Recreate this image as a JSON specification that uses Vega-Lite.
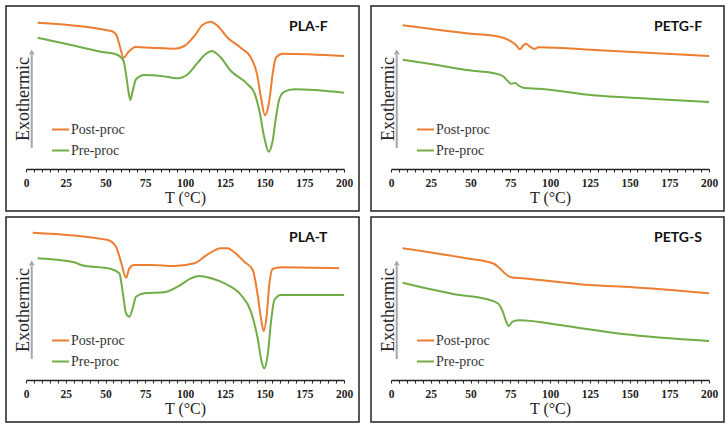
{
  "$schema": "https://vega.github.io/schema/vega-lite/v6.json",
  "padding": {"left": 5, "top": 5, "right": 5, "bottom": 5},
  "background": "white",
  "config": {
    "view": {"stroke": "#222", "strokeWidth": 1.5},
    "axis": {"grid": false}
  },
  "datasets": {
    "dsc": [
      {"panel": "PLA-F", "series": "Post-proc", "T": 7.3, "hf": 188.3},
      {"panel": "PLA-F", "series": "Post-proc", "T": 53.5, "hf": 180},
      {"panel": "PLA-F", "series": "Post-proc", "T": 56.6, "hf": 176.7},
      {"panel": "PLA-F", "series": "Post-proc", "T": 58.7, "hf": 166.7},
      {"panel": "PLA-F", "series": "Post-proc", "T": 61.4, "hf": 153.3},
      {"panel": "PLA-F", "series": "Post-proc", "T": 64, "hf": 158.3},
      {"panel": "PLA-F", "series": "Post-proc", "T": 69, "hf": 164},
      {"panel": "PLA-F", "series": "Post-proc", "T": 78.6, "hf": 163.3},
      {"panel": "PLA-F", "series": "Post-proc", "T": 93.3, "hf": 162.3},
      {"panel": "PLA-F", "series": "Post-proc", "T": 99.6, "hf": 165},
      {"panel": "PLA-F", "series": "Post-proc", "T": 105.9, "hf": 175},
      {"panel": "PLA-F", "series": "Post-proc", "T": 111, "hf": 186},
      {"panel": "PLA-F", "series": "Post-proc", "T": 116, "hf": 189.3},
      {"panel": "PLA-F", "series": "Post-proc", "T": 120.6, "hf": 185},
      {"panel": "PLA-F", "series": "Post-proc", "T": 126.8, "hf": 173.3},
      {"panel": "PLA-F", "series": "Post-proc", "T": 135, "hf": 163.3},
      {"panel": "PLA-F", "series": "Post-proc", "T": 141.5, "hf": 153.3},
      {"panel": "PLA-F", "series": "Post-proc", "T": 145.3, "hf": 136.7},
      {"panel": "PLA-F", "series": "Post-proc", "T": 147.8, "hf": 113.3},
      {"panel": "PLA-F", "series": "Post-proc", "T": 150.3, "hf": 95.7},
      {"panel": "PLA-F", "series": "Post-proc", "T": 153, "hf": 110},
      {"panel": "PLA-F", "series": "Post-proc", "T": 155.1, "hf": 136.7},
      {"panel": "PLA-F", "series": "Post-proc", "T": 157.2, "hf": 153.3},
      {"panel": "PLA-F", "series": "Post-proc", "T": 161.4, "hf": 157.3},
      {"panel": "PLA-F", "series": "Post-proc", "T": 200, "hf": 155},
      {"panel": "PLA-F", "series": "Pre-proc", "T": 7.3, "hf": 173.3},
      {"panel": "PLA-F", "series": "Pre-proc", "T": 26.2, "hf": 166.7},
      {"panel": "PLA-F", "series": "Pre-proc", "T": 47.2, "hf": 159.3},
      {"panel": "PLA-F", "series": "Pre-proc", "T": 57.7, "hf": 156},
      {"panel": "PLA-F", "series": "Pre-proc", "T": 61.4, "hf": 150},
      {"panel": "PLA-F", "series": "Pre-proc", "T": 62.9, "hf": 136.7},
      {"panel": "PLA-F", "series": "Pre-proc", "T": 64.6, "hf": 118.3},
      {"panel": "PLA-F", "series": "Pre-proc", "T": 65.6, "hf": 111},
      {"panel": "PLA-F", "series": "Pre-proc", "T": 67.1, "hf": 120},
      {"panel": "PLA-F", "series": "Pre-proc", "T": 69.2, "hf": 131.7},
      {"panel": "PLA-F", "series": "Pre-proc", "T": 74.4, "hf": 136},
      {"panel": "PLA-F", "series": "Pre-proc", "T": 84.9, "hf": 135},
      {"panel": "PLA-F", "series": "Pre-proc", "T": 95.4, "hf": 132.7},
      {"panel": "PLA-F", "series": "Pre-proc", "T": 101.7, "hf": 136.7},
      {"panel": "PLA-F", "series": "Pre-proc", "T": 108, "hf": 148.3},
      {"panel": "PLA-F", "series": "Pre-proc", "T": 113.2, "hf": 157.3},
      {"panel": "PLA-F", "series": "Pre-proc", "T": 116.8, "hf": 160},
      {"panel": "PLA-F", "series": "Pre-proc", "T": 121.6, "hf": 155},
      {"panel": "PLA-F", "series": "Pre-proc", "T": 128.9, "hf": 140},
      {"panel": "PLA-F", "series": "Pre-proc", "T": 139.4, "hf": 126.7},
      {"panel": "PLA-F", "series": "Pre-proc", "T": 143.6, "hf": 118.3},
      {"panel": "PLA-F", "series": "Pre-proc", "T": 146.8, "hf": 100},
      {"panel": "PLA-F", "series": "Pre-proc", "T": 149.9, "hf": 73.3},
      {"panel": "PLA-F", "series": "Pre-proc", "T": 152.6, "hf": 59.3},
      {"panel": "PLA-F", "series": "Pre-proc", "T": 155.1, "hf": 70},
      {"panel": "PLA-F", "series": "Pre-proc", "T": 157.2, "hf": 93.3},
      {"panel": "PLA-F", "series": "Pre-proc", "T": 159.3, "hf": 111.7},
      {"panel": "PLA-F", "series": "Pre-proc", "T": 162.5, "hf": 119.3},
      {"panel": "PLA-F", "series": "Pre-proc", "T": 168.8, "hf": 121.7},
      {"panel": "PLA-F", "series": "Pre-proc", "T": 200, "hf": 118.3},

      {"panel": "PETG-F", "series": "Post-proc", "T": 7.3, "hf": 185.7},
      {"panel": "PETG-F", "series": "Post-proc", "T": 47.2, "hf": 177.7},
      {"panel": "PETG-F", "series": "Post-proc", "T": 68.1, "hf": 174.3},
      {"panel": "PETG-F", "series": "Post-proc", "T": 74.4, "hf": 170.7},
      {"panel": "PETG-F", "series": "Post-proc", "T": 78.6, "hf": 166},
      {"panel": "PETG-F", "series": "Post-proc", "T": 81.1, "hf": 161.7},
      {"panel": "PETG-F", "series": "Post-proc", "T": 82.8, "hf": 165},
      {"panel": "PETG-F", "series": "Post-proc", "T": 84.9, "hf": 167.3},
      {"panel": "PETG-F", "series": "Post-proc", "T": 87.4, "hf": 164.3},
      {"panel": "PETG-F", "series": "Post-proc", "T": 90.1, "hf": 162},
      {"panel": "PETG-F", "series": "Post-proc", "T": 92.9, "hf": 163.7},
      {"panel": "PETG-F", "series": "Post-proc", "T": 131, "hf": 160.7},
      {"panel": "PETG-F", "series": "Post-proc", "T": 200, "hf": 155},
      {"panel": "PETG-F", "series": "Pre-proc", "T": 7.3, "hf": 151.3},
      {"panel": "PETG-F", "series": "Pre-proc", "T": 26.2, "hf": 146.7},
      {"panel": "PETG-F", "series": "Pre-proc", "T": 49.2, "hf": 140.7},
      {"panel": "PETG-F", "series": "Pre-proc", "T": 64, "hf": 138},
      {"panel": "PETG-F", "series": "Pre-proc", "T": 70.3, "hf": 135},
      {"panel": "PETG-F", "series": "Pre-proc", "T": 73.4, "hf": 130},
      {"panel": "PETG-F", "series": "Pre-proc", "T": 75.5, "hf": 127.3},
      {"panel": "PETG-F", "series": "Pre-proc", "T": 78, "hf": 128},
      {"panel": "PETG-F", "series": "Pre-proc", "T": 80.7, "hf": 125},
      {"panel": "PETG-F", "series": "Pre-proc", "T": 83.9, "hf": 123},
      {"panel": "PETG-F", "series": "Pre-proc", "T": 93.3, "hf": 122.3},
      {"panel": "PETG-F", "series": "Pre-proc", "T": 126.9, "hf": 115.7},
      {"panel": "PETG-F", "series": "Pre-proc", "T": 162.5, "hf": 112.3},
      {"panel": "PETG-F", "series": "Pre-proc", "T": 200, "hf": 109},

      {"panel": "PLA-T", "series": "Post-proc", "T": 4.2, "hf": 189.3},
      {"panel": "PLA-T", "series": "Post-proc", "T": 51.4, "hf": 182},
      {"panel": "PLA-T", "series": "Post-proc", "T": 56.6, "hf": 175.3},
      {"panel": "PLA-T", "series": "Post-proc", "T": 59.7, "hf": 160.3},
      {"panel": "PLA-T", "series": "Post-proc", "T": 62.9, "hf": 144.3},
      {"panel": "PLA-T", "series": "Post-proc", "T": 65, "hf": 153.7},
      {"panel": "PLA-T", "series": "Post-proc", "T": 68.1, "hf": 157},
      {"panel": "PLA-T", "series": "Post-proc", "T": 78.6, "hf": 157},
      {"panel": "PLA-T", "series": "Post-proc", "T": 93.3, "hf": 156},
      {"panel": "PLA-T", "series": "Post-proc", "T": 105.9, "hf": 158.7},
      {"panel": "PLA-T", "series": "Post-proc", "T": 114.3, "hf": 167.7},
      {"panel": "PLA-T", "series": "Post-proc", "T": 122.6, "hf": 173.7},
      {"panel": "PLA-T", "series": "Post-proc", "T": 126.8, "hf": 173.7},
      {"panel": "PLA-T", "series": "Post-proc", "T": 131, "hf": 169.7},
      {"panel": "PLA-T", "series": "Post-proc", "T": 137.3, "hf": 160.3},
      {"panel": "PLA-T", "series": "Post-proc", "T": 142.6, "hf": 152},
      {"panel": "PLA-T", "series": "Post-proc", "T": 145.7, "hf": 127},
      {"panel": "PLA-T", "series": "Post-proc", "T": 147.8, "hf": 103.7},
      {"panel": "PLA-T", "series": "Post-proc", "T": 149.5, "hf": 91},
      {"panel": "PLA-T", "series": "Post-proc", "T": 151.4, "hf": 107},
      {"panel": "PLA-T", "series": "Post-proc", "T": 153, "hf": 137},
      {"panel": "PLA-T", "series": "Post-proc", "T": 155.1, "hf": 153},
      {"panel": "PLA-T", "series": "Post-proc", "T": 160.4, "hf": 154.7},
      {"panel": "PLA-T", "series": "Post-proc", "T": 197, "hf": 153.7},
      {"panel": "PLA-T", "series": "Pre-proc", "T": 7.3, "hf": 163.7},
      {"panel": "PLA-T", "series": "Pre-proc", "T": 30.4, "hf": 159.7},
      {"panel": "PLA-T", "series": "Pre-proc", "T": 34.6, "hf": 157},
      {"panel": "PLA-T", "series": "Pre-proc", "T": 53.5, "hf": 153},
      {"panel": "PLA-T", "series": "Pre-proc", "T": 58.7, "hf": 148.7},
      {"panel": "PLA-T", "series": "Pre-proc", "T": 60.8, "hf": 130.3},
      {"panel": "PLA-T", "series": "Pre-proc", "T": 62.9, "hf": 108.7},
      {"panel": "PLA-T", "series": "Pre-proc", "T": 65, "hf": 105.3},
      {"panel": "PLA-T", "series": "Pre-proc", "T": 67.1, "hf": 113.7},
      {"panel": "PLA-T", "series": "Pre-proc", "T": 69.2, "hf": 125.3},
      {"panel": "PLA-T", "series": "Pre-proc", "T": 74.4, "hf": 128.7},
      {"panel": "PLA-T", "series": "Pre-proc", "T": 87, "hf": 129.7},
      {"panel": "PLA-T", "series": "Pre-proc", "T": 95.4, "hf": 135.3},
      {"panel": "PLA-T", "series": "Pre-proc", "T": 103.8, "hf": 143.7},
      {"panel": "PLA-T", "series": "Pre-proc", "T": 109, "hf": 146},
      {"panel": "PLA-T", "series": "Pre-proc", "T": 116.4, "hf": 143.7},
      {"panel": "PLA-T", "series": "Pre-proc", "T": 126.8, "hf": 137},
      {"panel": "PLA-T", "series": "Pre-proc", "T": 135.2, "hf": 127},
      {"panel": "PLA-T", "series": "Pre-proc", "T": 141.5, "hf": 110.3},
      {"panel": "PLA-T", "series": "Pre-proc", "T": 145.7, "hf": 83.7},
      {"panel": "PLA-T", "series": "Pre-proc", "T": 148.2, "hf": 60.3},
      {"panel": "PLA-T", "series": "Pre-proc", "T": 149.9, "hf": 53.7},
      {"panel": "PLA-T", "series": "Pre-proc", "T": 152, "hf": 67},
      {"panel": "PLA-T", "series": "Pre-proc", "T": 154.1, "hf": 100.3},
      {"panel": "PLA-T", "series": "Pre-proc", "T": 156.2, "hf": 122},
      {"panel": "PLA-T", "series": "Pre-proc", "T": 160.4, "hf": 127},
      {"panel": "PLA-T", "series": "Pre-proc", "T": 200, "hf": 127},

      {"panel": "PETG-S", "series": "Post-proc", "T": 7.3, "hf": 173.7},
      {"panel": "PETG-S", "series": "Post-proc", "T": 47.2, "hf": 163.7},
      {"panel": "PETG-S", "series": "Post-proc", "T": 64, "hf": 158.7},
      {"panel": "PETG-S", "series": "Post-proc", "T": 68.1, "hf": 154.3},
      {"panel": "PETG-S", "series": "Post-proc", "T": 72.3, "hf": 147.7},
      {"panel": "PETG-S", "series": "Post-proc", "T": 75.5, "hf": 144.7},
      {"panel": "PETG-S", "series": "Post-proc", "T": 82.8, "hf": 143.7},
      {"panel": "PETG-S", "series": "Post-proc", "T": 124.7, "hf": 137},
      {"panel": "PETG-S", "series": "Post-proc", "T": 152, "hf": 134.7},
      {"panel": "PETG-S", "series": "Post-proc", "T": 200, "hf": 128.7},
      {"panel": "PETG-S", "series": "Pre-proc", "T": 7.3, "hf": 139.3},
      {"panel": "PETG-S", "series": "Pre-proc", "T": 43, "hf": 127},
      {"panel": "PETG-S", "series": "Pre-proc", "T": 59.7, "hf": 123},
      {"panel": "PETG-S", "series": "Pre-proc", "T": 67.1, "hf": 118.7},
      {"panel": "PETG-S", "series": "Pre-proc", "T": 70.3, "hf": 110.3},
      {"panel": "PETG-S", "series": "Pre-proc", "T": 72.3, "hf": 101},
      {"panel": "PETG-S", "series": "Pre-proc", "T": 74, "hf": 96},
      {"panel": "PETG-S", "series": "Pre-proc", "T": 76.5, "hf": 100.3},
      {"panel": "PETG-S", "series": "Pre-proc", "T": 80.7, "hf": 101.7},
      {"panel": "PETG-S", "series": "Pre-proc", "T": 110, "hf": 96},
      {"panel": "PETG-S", "series": "Pre-proc", "T": 145.7, "hf": 88},
      {"panel": "PETG-S", "series": "Pre-proc", "T": 200, "hf": 81}
    ]
  },
  "spacing": 4,
  "resolve": {"scale": {"color": "independent", "x": "independent", "y": "independent"}, "legend": {"color": "independent"}},
  "vconcat": [
    {
      "spacing": 10,
      "resolve": {"scale": {"color": "independent", "x": "independent", "y": "independent"}, "legend": {"color": "independent"}},
      "hconcat": [
        {
          "width": 353, "height": 205,
          "resolve": {"axis": {"x": "independent", "y": "independent"}},
          "layer": [
            {
              "data": {"name": "dsc"},
              "transform": [{"filter": "datum.panel === 'PLA-F'"}],
              "mark": {"type": "line", "strokeWidth": 2, "interpolate": "monotone"},
              "encoding": {
                "x": {"field": "T", "type": "quantitative", "scale": {"domain": [0, 200], "range": [20, 338], "nice": false},
                  "axis": {"orient": "bottom", "values": [0,5,10,15,20,25,30,35,40,45,50,55,60,65,70,75,80,85,90,95,100,105,110,115,120,125,130,135,140,145,150,155,160,165,170,175,180,185,190,195,200],
                    "labelExpr": "datum.value % 25 === 0 ? datum.label : ''", "labelOverlap": false, "labelFlush": false,
                    "offset": -42, "title": "T (°C)", "titleFont": "Liberation Serif", "titleFontSize": 16, "titleFontWeight": "normal", "titleColor": "#222", "titlePadding": 1,
                    "labelFont": "Liberation Serif", "labelFontWeight": "bold", "labelFontSize": 11.5, "labelColor": "#222", "labelPadding": 5,
                    "tickSize": 3, "tickColor": "#222", "domainColor": "#222", "domainWidth": 1.5}},
                "y": {"field": "hf", "type": "quantitative", "scale": {"domain": [0, 205], "nice": false, "zero": false},
                  "axis": {"orient": "left", "domain": false, "ticks": false, "labels": false, "title": "Exothermic", "titleFont": "Liberation Serif", "titleFontSize": 18, "titleFontWeight": "normal", "titleColor": "#222", "titleX": 22, "titleY": 92.5, "titleBaseline": "alphabetic", "titleAngle": 270}},
                "color": {"field": "series", "type": "nominal", "scale": {"domain": ["Post-proc", "Pre-proc"], "range": ["#ED7D31", "#70AD47"]},
                  "legend": {"orient": "none", "legendX": 45, "legendY": 114, "title": null, "symbolType": "stroke", "symbolSize": 289, "symbolStrokeWidth": 2, "labelFont": "Liberation Serif", "labelFontSize": 14, "labelColor": "#333", "labelOffset": 1, "rowPadding": 4, "padding": 0}}
              }
            },
            {"data": {"values": [{}]}, "mark": {"type": "rule", "color": "#A6A6A6", "strokeWidth": 2}, "encoding": {"x": {"datum": 3.6, "axis": null}, "y": {"datum": 63, "axis": null}, "y2": {"datum": 156}}},
            {"data": {"values": [{}]}, "mark": {"type": "point", "shape": "triangle-up", "filled": true, "opacity": 1, "color": "#A6A6A6", "size": 35}, "encoding": {"x": {"datum": 3.6, "axis": null}, "y": {"datum": 159, "axis": null}}},
            {"data": {"values": [{}]}, "mark": {"type": "text", "text": "PLA-F", "font": "Lato", "fontWeight": "bold", "fontSize": 14, "align": "left", "baseline": "alphabetic", "color": "#111"}, "encoding": {"x": {"datum": 165.4, "axis": null}, "y": {"datum": 180, "axis": null}}}
          ]
        },
        {
          "width": 353, "height": 205,
          "resolve": {"axis": {"x": "independent", "y": "independent"}},
          "layer": [
            {
              "data": {"name": "dsc"},
              "transform": [{"filter": "datum.panel === 'PETG-F'"}],
              "mark": {"type": "line", "strokeWidth": 2, "interpolate": "monotone"},
              "encoding": {
                "x": {"field": "T", "type": "quantitative", "scale": {"domain": [0, 200], "range": [20, 338], "nice": false},
                  "axis": {"orient": "bottom", "values": [0,5,10,15,20,25,30,35,40,45,50,55,60,65,70,75,80,85,90,95,100,105,110,115,120,125,130,135,140,145,150,155,160,165,170,175,180,185,190,195,200],
                    "labelExpr": "datum.value % 25 === 0 ? datum.label : ''", "labelOverlap": false, "labelFlush": false,
                    "offset": -42, "title": "T (°C)", "titleFont": "Liberation Serif", "titleFontSize": 16, "titleFontWeight": "normal", "titleColor": "#222", "titlePadding": 1,
                    "labelFont": "Liberation Serif", "labelFontWeight": "bold", "labelFontSize": 11.5, "labelColor": "#222", "labelPadding": 5,
                    "tickSize": 3, "tickColor": "#222", "domainColor": "#222", "domainWidth": 1.5}},
                "y": {"field": "hf", "type": "quantitative", "scale": {"domain": [0, 205], "nice": false, "zero": false},
                  "axis": {"orient": "left", "domain": false, "ticks": false, "labels": false, "title": "Exothermic", "titleFont": "Liberation Serif", "titleFontSize": 18, "titleFontWeight": "normal", "titleColor": "#222", "titleX": 22, "titleY": 92.5, "titleBaseline": "alphabetic", "titleAngle": 270}},
                "color": {"field": "series", "type": "nominal", "scale": {"domain": ["Post-proc", "Pre-proc"], "range": ["#ED7D31", "#70AD47"]},
                  "legend": {"orient": "none", "legendX": 45, "legendY": 114, "title": null, "symbolType": "stroke", "symbolSize": 289, "symbolStrokeWidth": 2, "labelFont": "Liberation Serif", "labelFontSize": 14, "labelColor": "#333", "labelOffset": 1, "rowPadding": 4, "padding": 0}}
              }
            },
            {"data": {"values": [{}]}, "mark": {"type": "rule", "color": "#A6A6A6", "strokeWidth": 2}, "encoding": {"x": {"datum": 3.6, "axis": null}, "y": {"datum": 63, "axis": null}, "y2": {"datum": 156}}},
            {"data": {"values": [{}]}, "mark": {"type": "point", "shape": "triangle-up", "filled": true, "opacity": 1, "color": "#A6A6A6", "size": 35}, "encoding": {"x": {"datum": 3.6, "axis": null}, "y": {"datum": 159, "axis": null}}},
            {"data": {"values": [{}]}, "mark": {"type": "text", "text": "PETG-F", "font": "Lato", "fontWeight": "bold", "fontSize": 14, "align": "left", "baseline": "alphabetic", "color": "#111"}, "encoding": {"x": {"datum": 165.4, "axis": null}, "y": {"datum": 180, "axis": null}}}
          ]
        }
      ]
    },
    {
      "spacing": 10,
      "resolve": {"scale": {"color": "independent", "x": "independent", "y": "independent"}, "legend": {"color": "independent"}},
      "hconcat": [
        {
          "width": 353, "height": 205,
          "resolve": {"axis": {"x": "independent", "y": "independent"}},
          "layer": [
            {
              "data": {"name": "dsc"},
              "transform": [{"filter": "datum.panel === 'PLA-T'"}],
              "mark": {"type": "line", "strokeWidth": 2, "interpolate": "monotone"},
              "encoding": {
                "x": {"field": "T", "type": "quantitative", "scale": {"domain": [0, 200], "range": [20, 338], "nice": false},
                  "axis": {"orient": "bottom", "values": [0,5,10,15,20,25,30,35,40,45,50,55,60,65,70,75,80,85,90,95,100,105,110,115,120,125,130,135,140,145,150,155,160,165,170,175,180,185,190,195,200],
                    "labelExpr": "datum.value % 25 === 0 ? datum.label : ''", "labelOverlap": false, "labelFlush": false,
                    "offset": -42, "title": "T (°C)", "titleFont": "Liberation Serif", "titleFontSize": 16, "titleFontWeight": "normal", "titleColor": "#222", "titlePadding": 1,
                    "labelFont": "Liberation Serif", "labelFontWeight": "bold", "labelFontSize": 11.5, "labelColor": "#222", "labelPadding": 5,
                    "tickSize": 3, "tickColor": "#222", "domainColor": "#222", "domainWidth": 1.5}},
                "y": {"field": "hf", "type": "quantitative", "scale": {"domain": [0, 205], "nice": false, "zero": false},
                  "axis": {"orient": "left", "domain": false, "ticks": false, "labels": false, "title": "Exothermic", "titleFont": "Liberation Serif", "titleFontSize": 18, "titleFontWeight": "normal", "titleColor": "#222", "titleX": 22, "titleY": 92.5, "titleBaseline": "alphabetic", "titleAngle": 270}},
                "color": {"field": "series", "type": "nominal", "scale": {"domain": ["Post-proc", "Pre-proc"], "range": ["#ED7D31", "#70AD47"]},
                  "legend": {"orient": "none", "legendX": 45, "legendY": 114, "title": null, "symbolType": "stroke", "symbolSize": 289, "symbolStrokeWidth": 2, "labelFont": "Liberation Serif", "labelFontSize": 14, "labelColor": "#333", "labelOffset": 1, "rowPadding": 4, "padding": 0}}
              }
            },
            {"data": {"values": [{}]}, "mark": {"type": "rule", "color": "#A6A6A6", "strokeWidth": 2}, "encoding": {"x": {"datum": 3.6, "axis": null}, "y": {"datum": 63, "axis": null}, "y2": {"datum": 156}}},
            {"data": {"values": [{}]}, "mark": {"type": "point", "shape": "triangle-up", "filled": true, "opacity": 1, "color": "#A6A6A6", "size": 35}, "encoding": {"x": {"datum": 3.6, "axis": null}, "y": {"datum": 159, "axis": null}}},
            {"data": {"values": [{}]}, "mark": {"type": "text", "text": "PLA-T", "font": "Lato", "fontWeight": "bold", "fontSize": 14, "align": "left", "baseline": "alphabetic", "color": "#111"}, "encoding": {"x": {"datum": 165.4, "axis": null}, "y": {"datum": 180, "axis": null}}}
          ]
        },
        {
          "width": 353, "height": 205,
          "resolve": {"axis": {"x": "independent", "y": "independent"}},
          "layer": [
            {
              "data": {"name": "dsc"},
              "transform": [{"filter": "datum.panel === 'PETG-S'"}],
              "mark": {"type": "line", "strokeWidth": 2, "interpolate": "monotone"},
              "encoding": {
                "x": {"field": "T", "type": "quantitative", "scale": {"domain": [0, 200], "range": [20, 338], "nice": false},
                  "axis": {"orient": "bottom", "values": [0,5,10,15,20,25,30,35,40,45,50,55,60,65,70,75,80,85,90,95,100,105,110,115,120,125,130,135,140,145,150,155,160,165,170,175,180,185,190,195,200],
                    "labelExpr": "datum.value % 25 === 0 ? datum.label : ''", "labelOverlap": false, "labelFlush": false,
                    "offset": -42, "title": "T (°C)", "titleFont": "Liberation Serif", "titleFontSize": 16, "titleFontWeight": "normal", "titleColor": "#222", "titlePadding": 1,
                    "labelFont": "Liberation Serif", "labelFontWeight": "bold", "labelFontSize": 11.5, "labelColor": "#222", "labelPadding": 5,
                    "tickSize": 3, "tickColor": "#222", "domainColor": "#222", "domainWidth": 1.5}},
                "y": {"field": "hf", "type": "quantitative", "scale": {"domain": [0, 205], "nice": false, "zero": false},
                  "axis": {"orient": "left", "domain": false, "ticks": false, "labels": false, "title": "Exothermic", "titleFont": "Liberation Serif", "titleFontSize": 18, "titleFontWeight": "normal", "titleColor": "#222", "titleX": 22, "titleY": 92.5, "titleBaseline": "alphabetic", "titleAngle": 270}},
                "color": {"field": "series", "type": "nominal", "scale": {"domain": ["Post-proc", "Pre-proc"], "range": ["#ED7D31", "#70AD47"]},
                  "legend": {"orient": "none", "legendX": 45, "legendY": 114, "title": null, "symbolType": "stroke", "symbolSize": 289, "symbolStrokeWidth": 2, "labelFont": "Liberation Serif", "labelFontSize": 14, "labelColor": "#333", "labelOffset": 1, "rowPadding": 4, "padding": 0}}
              }
            },
            {"data": {"values": [{}]}, "mark": {"type": "rule", "color": "#A6A6A6", "strokeWidth": 2}, "encoding": {"x": {"datum": 3.6, "axis": null}, "y": {"datum": 63, "axis": null}, "y2": {"datum": 156}}},
            {"data": {"values": [{}]}, "mark": {"type": "point", "shape": "triangle-up", "filled": true, "opacity": 1, "color": "#A6A6A6", "size": 35}, "encoding": {"x": {"datum": 3.6, "axis": null}, "y": {"datum": 159, "axis": null}}},
            {"data": {"values": [{}]}, "mark": {"type": "text", "text": "PETG-S", "font": "Lato", "fontWeight": "bold", "fontSize": 14, "align": "left", "baseline": "alphabetic", "color": "#111"}, "encoding": {"x": {"datum": 165.4, "axis": null}, "y": {"datum": 180, "axis": null}}}
          ]
        }
      ]
    }
  ]
}
